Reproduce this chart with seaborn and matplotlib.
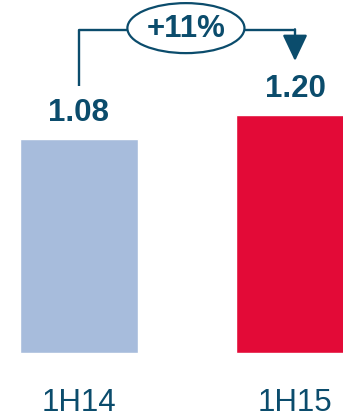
import matplotlib
matplotlib.use("Agg")
import matplotlib.pyplot as plt
import seaborn as sns
import pandas as pd
from matplotlib.patches import Ellipse

categories = ["1H14", "1H15"]
values = [1.08, 1.20]
value_labels = ["1.08", "1.20"]
bar_colors = ["#A7BCDC", "#E30A37"]
change_label = "+11%"

sns.set_theme(style="white")
plt.rcParams["font.family"] = ["Liberation Sans", "DejaVu Sans"]

dark = "#0B4C6C"

fig = plt.figure(figsize=(3.43, 4.20), dpi=100)
ax = fig.add_axes([0, 0, 1, 1])

df = pd.DataFrame({"period": categories, "value": values})
sns.barplot(data=df, x="period", y="value", hue="period", palette=bar_colors,
            width=0.546, legend=False, ax=ax, saturation=1)

ax.set_xlim(-0.3657, 1.2222)
ax.set_ylim(-0.338, 1.783)
ax.axis("off")

for i, (v, lab) in enumerate(zip(values, value_labels)):
    ax.text(i, v + 0.133, lab, ha="center", va="center", fontsize=22.5,
            fontweight="bold", color=dark)
    ax.text(i, -0.2525, categories[i], ha="center", va="center", fontsize=22.5,
            color=dark)

# bracket annotation
y_top = 1.631
ex, ey, ew, eh = 0.495, 1.641, 0.542, 0.2525
ax.plot([0, 0, ex - ew / 2], [values[0] + 0.268, y_top, y_top], color=dark, lw=1.7,
        solid_capstyle="butt")
ax.plot([ex + ew / 2, 1], [y_top, y_top], color=dark, lw=1.7, solid_capstyle="butt")
ax.annotate("", xy=(1, values[1] + 0.275), xytext=(1, y_top + 0.004),
            arrowprops=dict(arrowstyle="-|>,head_length=0.95,head_width=0.45",
                            color=dark, lw=1.7, mutation_scale=17,
                            shrinkA=0, shrinkB=0))
ax.add_patch(Ellipse((ex, ey), ew, eh, facecolor="white", edgecolor=dark, lw=1.6))
ax.text(ex, ey - 0.005, change_label, ha="center", va="center", fontsize=22.5,
        fontweight="bold", color=dark)

fig.savefig("out.png", dpi=100)
